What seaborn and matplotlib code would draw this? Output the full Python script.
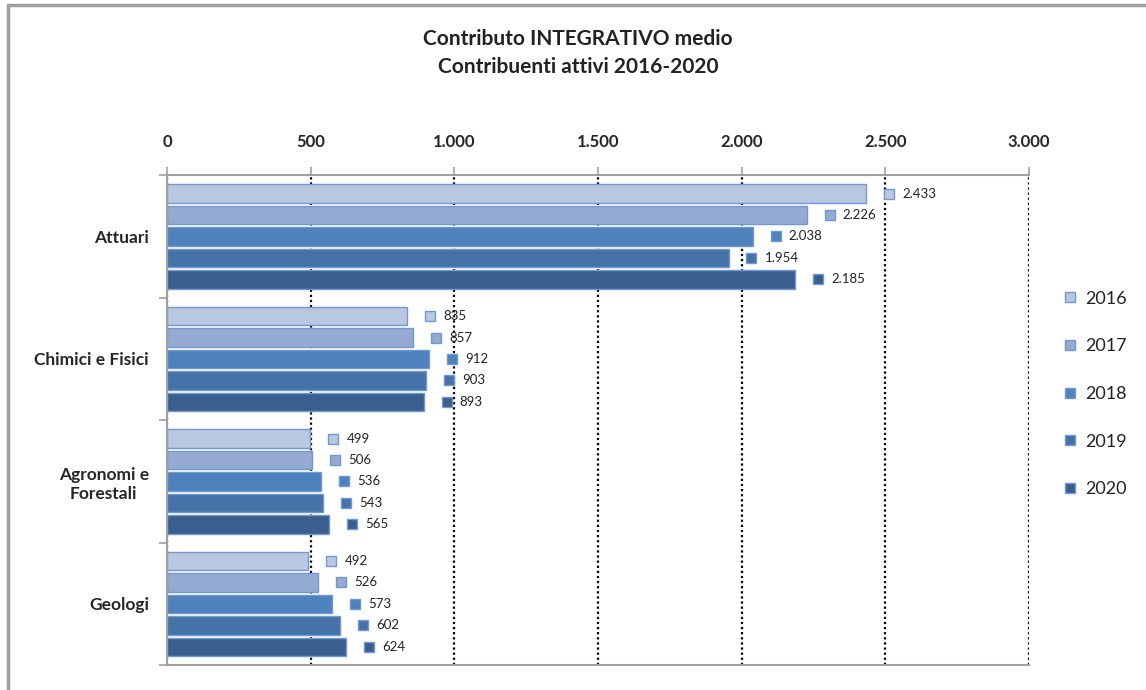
import matplotlib
matplotlib.use("Agg")
import pandas as pd
import seaborn as sns
import matplotlib.pyplot as plt
from matplotlib.lines import Line2D
from matplotlib.patches import Rectangle
from matplotlib.ticker import FuncFormatter
from matplotlib.transforms import offset_copy

# Dati
categories = ["Attuari", "Chimici e Fisici", "Agronomi e Forestali", "Geologi"]
tick_labels = ["Attuari", "Chimici e Fisici", "Agronomi e\nForestali", "Geologi"]
years = ["2016", "2017", "2018", "2019", "2020"]
val_2016 = [2433, 835, 499, 492]
val_2017 = [2226, 857, 506, 526]
val_2018 = [2038, 912, 536, 573]
val_2019 = [1954, 903, 543, 602]
val_2020 = [2185, 893, 565, 624]
colors = ["#b9c7e1", "#95aad2", "#4f81bd", "#4572a7", "#3a5f8e"]
edge = "#6f99d0"

rows = []
for yr, vals in zip(years, [val_2016, val_2017, val_2018, val_2019, val_2020]):
    for cat, v in zip(categories, vals):
        rows.append({"categoria": cat, "anno": yr, "valore": v})
df = pd.DataFrame(rows)


def it_fmt(x, pos=None):
    return f"{int(round(x)):,}".replace(",", ".")


sns.set_theme(style="white")
plt.rcParams['font.family'] = ['Lato', 'DejaVu Sans']
plt.rcParams['text.color'] = '#222222'

fig = plt.figure(figsize=(11.46, 6.9), dpi=100)
ax = fig.add_axes([0.1457, 0.036, 0.898 - 0.1457, 0.71])

sns.barplot(data=df, y="categoria", x="valore", hue="anno", order=categories,
            hue_order=years, palette=colors, saturation=1, orient="h", width=0.875, gap=0.14,
            edgecolor=edge, linewidth=1, legend=False, ax=ax, zorder=2)

ax.set_xlim(0, 3000)
ax.set_ylim(3.5, -0.5)
ax.set_xlabel("")
ax.set_ylabel("")

# asse x in alto
ax.xaxis.tick_top()
ax.set_xticks(range(0, 3001, 500))
ax.xaxis.set_major_formatter(FuncFormatter(it_fmt))
ax.tick_params(axis="x", top=True, bottom=False, direction="out", length=6,
               color="#a0a0a0", width=1.2, pad=12, labelsize=12)
for lab in ax.get_xticklabels():
    lab.set_fontweight("bold")
ax.set_axisbelow(True)
ax.xaxis.grid(True, color="black", linestyle=(0, (1, 1.3)), linewidth=1.6)
ax.yaxis.grid(False)

# asse y
ax.set_yticks(range(len(categories)))
ax.set_yticklabels(tick_labels, fontweight="bold", fontsize=12.5, multialignment="center")
ax.tick_params(axis="y", which="major", length=0, pad=13)
ax.set_yticks([i - 0.5 for i in range(len(categories) + 1)], minor=True)
ax.tick_params(axis="y", which="minor", left=True, direction="out", length=6,
               color="#a0a0a0", width=1.2)

for side in ["top", "left", "bottom"]:
    ax.spines[side].set_color("#a0a0a0")
    ax.spines[side].set_linewidth(1.5)
ax.spines["right"].set_visible(False)

# etichette dati con marcatore
mark_tr = offset_copy(ax.transData, fig=fig, x=16.5, units="points")
text_tr = offset_copy(ax.transData, fig=fig, x=26, units="points")
for cont, col in zip(ax.containers, colors):
    for bar in cont:
        v = bar.get_width()
        yc = bar.get_y() + bar.get_height() / 2
        ax.plot(v, yc, marker="s", ms=6.5, mfc=col, mec=edge, mew=1,
                transform=mark_tr, clip_on=False, zorder=3)
        ax.text(v, yc, it_fmt(v), transform=text_tr, va="center", ha="left",
                fontsize=9.5, color="#222222")

# titolo
fig.text(578 / 1146, 1 - 53 / 690, "Contributo INTEGRATIVO medio\nContribuenti attivi 2016-2020",
         ha="center", va="center", fontsize=15, fontweight="bold", linespacing=1.5)

# legenda
handles = [Line2D([], [], ls="", marker="s", ms=7.5, mfc=c, mec=edge, mew=1) for c in colors]
fig.legend(handles, years, loc="center left", bbox_to_anchor=(1056 / 1146, 1 - 394 / 690),
           frameon=False, fontsize=13, labelspacing=1.75, handlelength=0.8,
           handletextpad=0.4, borderaxespad=0)

# cornice del grafico
fig.add_artist(Rectangle((8 / 1146, -0.1), 1.5, 1.1 - 5 / 690, transform=fig.transFigure,
                         fill=False, edgecolor="#a0a0a0", linewidth=2.5))

fig.savefig("out.png", dpi=100)
